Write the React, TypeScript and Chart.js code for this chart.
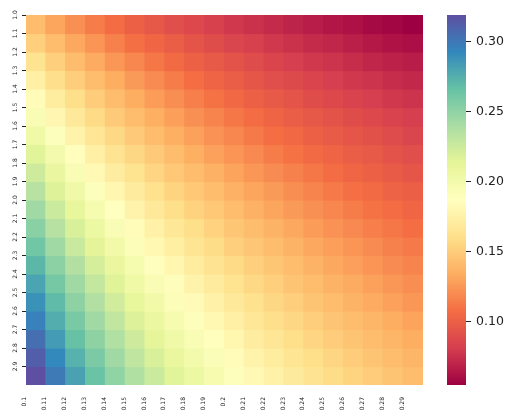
import { useEffect, useRef } from "react";
import { Chart, registerables } from "chart.js";

Chart.register(...registerables);

const xLabels = ["0.1", "0.11", "0.12", "0.13", "0.14", "0.15", "0.16", "0.17", "0.18", "0.19", "0.2", "0.21", "0.22", "0.23", "0.24", "0.25", "0.26", "0.27", "0.28", "0.29"];
const yLabels = ["1.0", "1.1", "1.2", "1.3", "1.4", "1.5", "1.6", "1.7", "1.8", "1.9", "2.0", "2.1", "2.2", "2.3", "2.4", "2.5", "2.6", "2.7", "2.8", "2.9"];

const row10 = [0.142, 0.131, 0.122, 0.114, 0.107, 0.101, 0.096, 0.091, 0.087, 0.083, 0.079, 0.076, 0.073, 0.070, 0.067, 0.064, 0.062, 0.059, 0.057, 0.055];
const row11 = [0.152, 0.142, 0.132, 0.124, 0.116, 0.109, 0.104, 0.099, 0.094, 0.090, 0.086, 0.083, 0.079, 0.076, 0.073, 0.071, 0.068, 0.065, 0.063, 0.061];
const row12 = [0.163, 0.152, 0.142, 0.133, 0.125, 0.118, 0.112, 0.106, 0.101, 0.097, 0.093, 0.089, 0.085, 0.082, 0.079, 0.077, 0.074, 0.071, 0.069, 0.067];
const row13 = [0.174, 0.161, 0.151, 0.142, 0.134, 0.126, 0.120, 0.114, 0.108, 0.103, 0.099, 0.095, 0.091, 0.088, 0.085, 0.082, 0.079, 0.077, 0.074, 0.072];
const row14 = [0.184, 0.171, 0.160, 0.150, 0.142, 0.134, 0.127, 0.121, 0.115, 0.110, 0.105, 0.101, 0.097, 0.094, 0.090, 0.087, 0.084, 0.082, 0.079, 0.077];
const row15 = [0.194, 0.180, 0.168, 0.158, 0.149, 0.142, 0.135, 0.128, 0.122, 0.117, 0.112, 0.107, 0.103, 0.099, 0.096, 0.093, 0.090, 0.087, 0.084, 0.082];
const row16 = [0.204, 0.190, 0.177, 0.166, 0.157, 0.149, 0.142, 0.135, 0.129, 0.123, 0.118, 0.113, 0.108, 0.105, 0.101, 0.098, 0.095, 0.092, 0.089, 0.086];
const row17 = [0.215, 0.199, 0.186, 0.174, 0.164, 0.156, 0.149, 0.142, 0.135, 0.129, 0.124, 0.119, 0.114, 0.110, 0.106, 0.103, 0.099, 0.097, 0.093, 0.091];
const row18 = [0.224, 0.208, 0.194, 0.182, 0.172, 0.163, 0.155, 0.148, 0.142, 0.136, 0.130, 0.125, 0.120, 0.116, 0.112, 0.107, 0.104, 0.101, 0.098, 0.095];
const row19 = [0.234, 0.217, 0.203, 0.190, 0.180, 0.170, 0.162, 0.154, 0.148, 0.142, 0.136, 0.131, 0.126, 0.121, 0.117, 0.113, 0.109, 0.106, 0.102, 0.100];
const row20 = [0.244, 0.226, 0.211, 0.198, 0.187, 0.177, 0.168, 0.160, 0.153, 0.148, 0.142, 0.136, 0.131, 0.126, 0.122, 0.118, 0.114, 0.110, 0.107, 0.104];
const row21 = [0.253, 0.235, 0.219, 0.206, 0.194, 0.184, 0.175, 0.167, 0.160, 0.153, 0.147, 0.142, 0.137, 0.132, 0.127, 0.123, 0.119, 0.115, 0.112, 0.108];
const row22 = [0.262, 0.244, 0.227, 0.214, 0.201, 0.191, 0.181, 0.173, 0.165, 0.159, 0.152, 0.147, 0.142, 0.137, 0.132, 0.128, 0.124, 0.120, 0.116, 0.113];
const row23 = [0.271, 0.252, 0.236, 0.221, 0.209, 0.198, 0.188, 0.179, 0.171, 0.164, 0.158, 0.152, 0.147, 0.142, 0.137, 0.132, 0.128, 0.124, 0.120, 0.117];
const row24 = [0.280, 0.260, 0.244, 0.229, 0.216, 0.204, 0.194, 0.185, 0.177, 0.170, 0.163, 0.157, 0.152, 0.146, 0.142, 0.137, 0.133, 0.129, 0.125, 0.121];
const row25 = [0.288, 0.269, 0.251, 0.236, 0.223, 0.211, 0.201, 0.191, 0.183, 0.175, 0.168, 0.162, 0.156, 0.151, 0.146, 0.142, 0.137, 0.133, 0.129, 0.125];
const row26 = [0.296, 0.276, 0.259, 0.244, 0.230, 0.218, 0.207, 0.197, 0.189, 0.181, 0.174, 0.167, 0.161, 0.156, 0.151, 0.146, 0.142, 0.138, 0.134, 0.130];
const row27 = [0.304, 0.284, 0.266, 0.251, 0.237, 0.224, 0.213, 0.203, 0.194, 0.186, 0.179, 0.172, 0.166, 0.160, 0.155, 0.150, 0.146, 0.142, 0.138, 0.134];
const row28 = [0.312, 0.292, 0.274, 0.258, 0.244, 0.231, 0.219, 0.209, 0.200, 0.192, 0.184, 0.177, 0.171, 0.165, 0.160, 0.155, 0.150, 0.146, 0.142, 0.138];
const row29 = [0.319, 0.299, 0.281, 0.265, 0.250, 0.237, 0.226, 0.215, 0.206, 0.197, 0.189, 0.182, 0.175, 0.169, 0.164, 0.159, 0.154, 0.150, 0.146, 0.142];

const values = [row10, row11, row12, row13, row14, row15, row16, row17, row18, row19, row20, row21, row22, row23, row24, row25, row26, row27, row28, row29];

const cbTicks = [0.1, 0.15, 0.2, 0.25, 0.3];

const spectral = [
  [158, 1, 66], [213, 62, 79], [244, 109, 67], [253, 174, 97], [254, 224, 139],
  [255, 255, 191], [230, 245, 152], [171, 221, 164], [102, 194, 165], [50, 136, 189], [94, 79, 162],
];

function cmap(t: number): string {
  const tt = Math.max(0, Math.min(1, t));
  const p = tt * 10;
  const k = Math.min(9, Math.floor(p));
  const f = p - k;
  const a = spectral[k];
  const b = spectral[k + 1];
  const c = a.map((v, j) => Math.round(v + (b[j] - v) * f));
  return `rgb(${c[0]},${c[1]},${c[2]})`;
}

const allVals = values.flat();
const vmin = Math.min(...allVals);
const vmax = Math.max(...allVals);

const FONT = "'DejaVu Sans', 'Liberation Sans', sans-serif";
const TXT = "#222222";

export default function App() {
  const mainRef = useRef<HTMLCanvasElement>(null);
  const cbRef = useRef<HTMLCanvasElement>(null);

  useEffect(() => {
    const datasets = values.map((row, i) => ({
      data: row.map(() => [i, i + 1]),
      backgroundColor: row.map((v) => cmap((v - vmin) / (vmax - vmin))),
      borderWidth: 0,
      barPercentage: 1,
      categoryPercentage: 1,
      grouped: false,
      inflateAmount: 0.6,
    }));

    const main = new Chart(mainRef.current as HTMLCanvasElement, {
      type: "bar",
      data: { labels: xLabels, datasets: datasets as any },
      options: {
        animation: false,
        responsive: false,
        events: [],
        layout: { padding: { left: 0, right: 17, top: 15, bottom: 0 } },
        plugins: { legend: { display: false }, tooltip: { enabled: false } },
        scales: {
          x: {
            type: "category",
            offset: true,
            grid: { display: false, drawTicks: false },
            border: { display: false },
            ticks: {
              autoSkip: false,
              minRotation: 90,
              maxRotation: 90,
              labelOffset: -11,
              padding: 12,
              color: TXT,
              font: { family: FONT, size: 6 },
            },
            afterFit: (s: any) => {
              s.height = 35;
            },
          },
          y: {
            type: "linear",
            min: 0,
            max: yLabels.length,
            reverse: true,
            afterBuildTicks: (s: any) => {
              s.ticks = yLabels.map((_, i) => ({ value: i }));
            },
            grid: {
              display: true,
              drawOnChartArea: false,
              drawTicks: true,
              tickLength: 4,
              color: TXT,
              lineWidth: 1,
            },
            border: { display: false },
            ticks: {
              autoSkip: false,
              minRotation: 90,
              maxRotation: 90,
              crossAlign: "center",
              padding: 2,
              color: TXT,
              font: { family: FONT, size: 6 },
              callback: (_v: any, idx: number) => yLabels[idx],
            },
            afterFit: (s: any) => {
              s.width = 26;
            },
          },
        },
      } as any,
    });

    const cb = new Chart(cbRef.current as HTMLCanvasElement, {
      type: "bar",
      data: {
        labels: ["cb"],
        datasets: [
          {
            data: [[vmin, vmax]] as any,
            backgroundColor: (ctx: any) => {
              const area = ctx.chart.chartArea;
              if (!area) return "rgba(0,0,0,0)";
              const g = ctx.chart.ctx.createLinearGradient(0, area.bottom, 0, area.top);
              spectral.forEach((c, k) => g.addColorStop(k / 10, `rgb(${c[0]},${c[1]},${c[2]})`));
              return g;
            },
            borderWidth: 0,
            barPercentage: 1,
            categoryPercentage: 1,
            inflateAmount: 0,
          } as any,
        ],
      },
      options: {
        animation: false,
        responsive: false,
        events: [],
        layout: { padding: { left: 7, right: 0, top: 15, bottom: 35 } },
        plugins: { legend: { display: false }, tooltip: { enabled: false } },
        scales: {
          x: { display: false },
          y: {
            type: "linear",
            position: "right",
            min: vmin,
            max: vmax,
            afterBuildTicks: (s: any) => {
              s.ticks = cbTicks.map((v) => ({ value: v }));
            },
            grid: {
              display: true,
              drawOnChartArea: false,
              drawTicks: true,
              tickLength: 5,
              color: TXT,
              lineWidth: 1,
            },
            border: { display: false },
            ticks: {
              autoSkip: false,
              padding: 5,
              color: TXT,
              font: { family: FONT, size: 12.5 },
              callback: (v: any) => Number(v).toFixed(2),
            },
            afterFit: (s: any) => {
              s.width = 50;
            },
          },
        },
      } as any,
    });

    return () => {
      main.destroy();
      cb.destroy();
    };
  }, []);

  return (
    <div style={{ position: "absolute", left: 0, top: 0, width: 516, height: 420, background: "#ffffff" }}>
      <canvas ref={mainRef} width={440} height={420} style={{ position: "absolute", left: 0, top: 0 }} />
      <canvas ref={cbRef} width={76} height={420} style={{ position: "absolute", left: 440, top: 0 }} />
    </div>
  );
}
